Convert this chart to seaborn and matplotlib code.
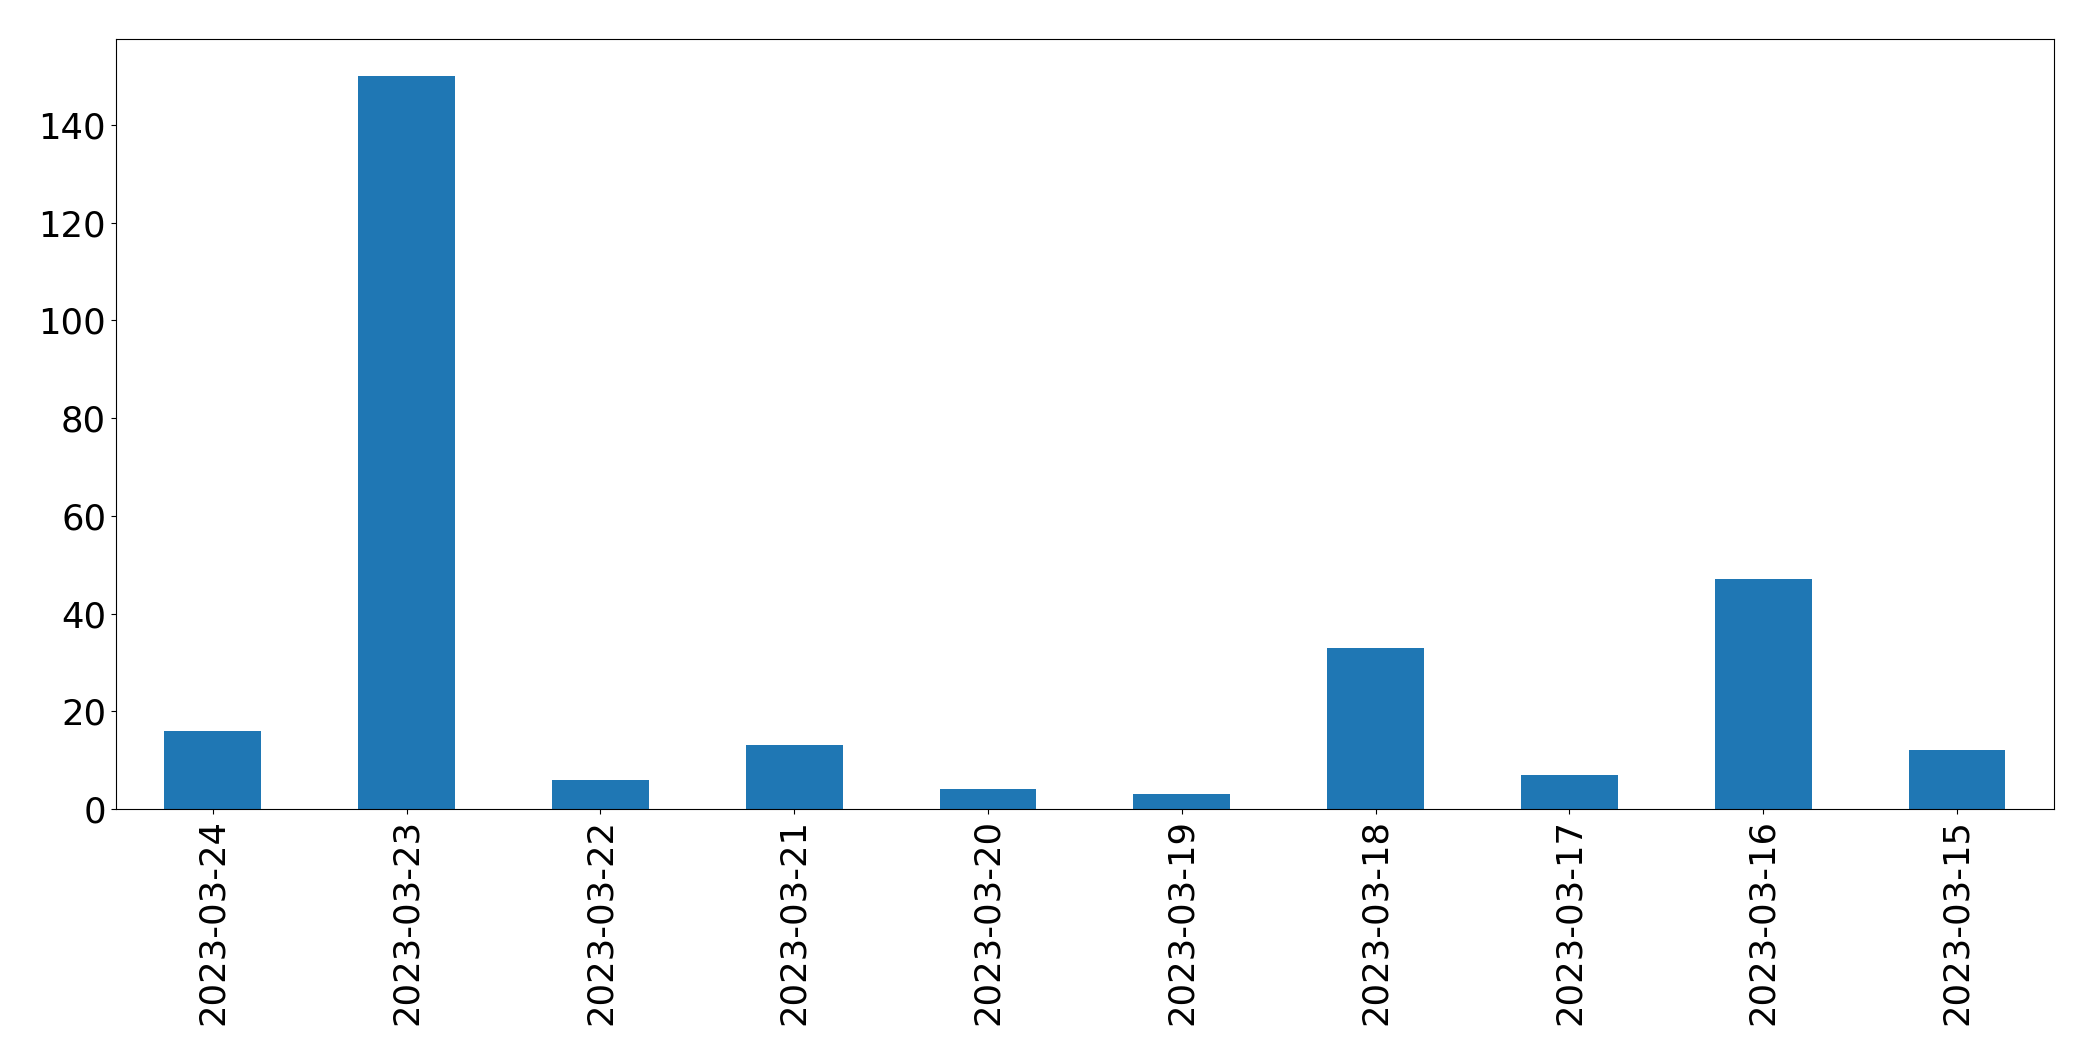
import pandas as pd
import matplotlib
matplotlib.use("Agg")
import matplotlib.pyplot as plt
import seaborn as sns

# Daily counts, newest day first (as in the source chart)
dates = ['2023-03-24', '2023-03-23', '2023-03-22', '2023-03-21', '2023-03-20',
         '2023-03-19', '2023-03-18', '2023-03-17', '2023-03-16', '2023-03-15']
counts = [16, 150, 6, 13, 4, 3, 33, 7, 47, 12]

data = pd.DataFrame({'date': dates, 'count': counts})

fig = plt.figure(figsize=(20.93, 10.61), dpi=100)
ax = fig.add_axes([0.0554, 0.2375, 0.9259, 0.7255])

sns.barplot(data=data, x='date', y='count', order=dates, color='#1f77b4',
            saturation=1, width=0.5, errorbar=None, linewidth=0, ax=ax)

ax.set_xlim(-0.5, len(dates) - 0.5)
ax.set_ylim(0, max(counts) * 1.05)
ax.set_xlabel('')
ax.set_ylabel('')
ax.tick_params(axis='both', labelsize=25.5)
plt.setp(ax.get_xticklabels(), rotation=90)

fig.savefig('out.png', dpi=100)
plt.close(fig)
